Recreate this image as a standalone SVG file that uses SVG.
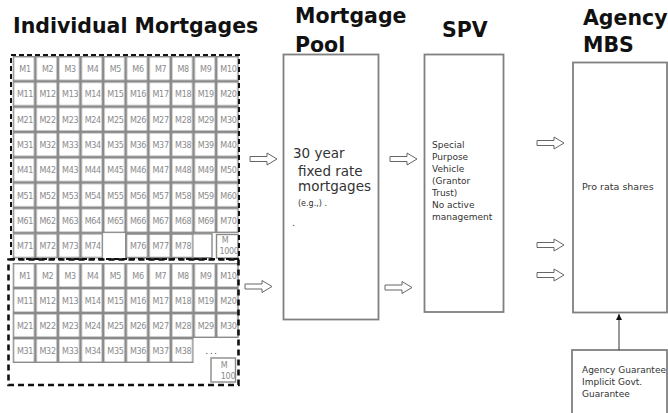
<svg xmlns="http://www.w3.org/2000/svg" xmlns:xlink="http://www.w3.org/1999/xlink" width="668" height="413" viewBox="0 0 668 413">
<style>
.title{font-family:"DejaVu Sans",Verdana,sans-serif;font-weight:bold;font-size:20.5px;fill:#111}
.c{font-family:"DejaVu Sans",sans-serif;font-size:8px;fill:#8a8a8a;text-anchor:middle;letter-spacing:-0.3px}
.box{fill:#fff;stroke:#808080;stroke-width:1.8}
.t{font-family:"DejaVu Sans",sans-serif;fill:#333}
.s{font-size:9px}
.blk{fill:#fff;stroke:#666;stroke-width:1}
.cellb{fill:none;stroke:#8a8a8a;stroke-width:1.4}
</style>
<defs>
<pattern id="cellsA" patternUnits="userSpaceOnUse" x="12.7" y="56" width="22.6" height="25.3">
<rect x="0.7" y="0.7" width="21.2" height="23.9" fill="#fff" stroke="#8a8a8a" stroke-width="1.4"/>
</pattern>
<pattern id="cellsB" patternUnits="userSpaceOnUse" x="12.7" y="263" width="22.6" height="25">
<rect x="0.7" y="0.7" width="21.2" height="23.6" fill="#fff" stroke="#8a8a8a" stroke-width="1.4"/>
</pattern>
<path id="blk" d="M0,-2.5 H17 V-6 L27,0 L17,6 V2.5 H0 Z"/>
<marker id="ah" markerWidth="8" markerHeight="8" refX="6" refY="3" orient="auto" markerUnits="userSpaceOnUse">
<path d="M0,0 L6,3 L0,6 Z" fill="#111"/>
</marker>
</defs>
<rect width="668" height="413" fill="#fff"/>

<text class="title" x="13" y="33">Individual Mortgages</text>
<text class="title" x="295" y="23.3">Mortgage</text>
<text class="title" x="295" y="51.7">Pool</text>
<text class="title" x="442" y="37">SPV</text>
<text class="title" x="583" y="25">Agency</text>
<text class="title" x="583" y="51.7">MBS</text>

<g id="grid1">
<rect x="12.7" y="56" width="226" height="177.1" fill="url(#cellsA)"/>
<rect x="12.7" y="233.1" width="90.4" height="25.3" fill="url(#cellsA)"/>
<rect x="125.7" y="233.1" width="67.8" height="25.3" fill="url(#cellsA)"/>
<rect x="125.7" y="233.8" width="86.3" height="23.9" class="cellb"/>
<rect x="216.5" y="234.5" width="21.5" height="23.5" class="cellb" fill="#fff"/>
<g class="c">
<text x="25" y="72">M1</text><text x="47.6" y="72">M2</text><text x="70.2" y="72">M3</text><text x="92.8" y="72">M4</text><text x="115.4" y="72">M5</text><text x="138" y="72">M6</text><text x="160.6" y="72">M7</text><text x="183.2" y="72">M8</text><text x="205.8" y="72">M9</text><text x="228.4" y="72">M10</text>
<text x="25" y="97.3">M11</text><text x="47.6" y="97.3">M12</text><text x="70.2" y="97.3">M13</text><text x="92.8" y="97.3">M14</text><text x="115.4" y="97.3">M15</text><text x="138" y="97.3">M16</text><text x="160.6" y="97.3">M17</text><text x="183.2" y="97.3">M18</text><text x="205.8" y="97.3">M19</text><text x="228.4" y="97.3">M20</text>
<text x="25" y="122.6">M21</text><text x="47.6" y="122.6">M22</text><text x="70.2" y="122.6">M23</text><text x="92.8" y="122.6">M24</text><text x="115.4" y="122.6">M25</text><text x="138" y="122.6">M26</text><text x="160.6" y="122.6">M27</text><text x="183.2" y="122.6">M28</text><text x="205.8" y="122.6">M29</text><text x="228.4" y="122.6">M30</text>
<text x="25" y="147.9">M31</text><text x="47.6" y="147.9">M32</text><text x="70.2" y="147.9">M33</text><text x="92.8" y="147.9">M34</text><text x="115.4" y="147.9">M35</text><text x="138" y="147.9">M36</text><text x="160.6" y="147.9">M37</text><text x="183.2" y="147.9">M38</text><text x="205.8" y="147.9">M39</text><text x="228.4" y="147.9">M40</text>
<text x="25" y="173.2">M41</text><text x="47.6" y="173.2">M42</text><text x="70.2" y="173.2">M43</text><text x="92.8" y="173.2">M44</text><text x="115.4" y="173.2">M45</text><text x="138" y="173.2">M46</text><text x="160.6" y="173.2">M47</text><text x="183.2" y="173.2">M48</text><text x="205.8" y="173.2">M49</text><text x="228.4" y="173.2">M50</text>
<text x="25" y="198.5">M51</text><text x="47.6" y="198.5">M52</text><text x="70.2" y="198.5">M53</text><text x="92.8" y="198.5">M54</text><text x="115.4" y="198.5">M55</text><text x="138" y="198.5">M56</text><text x="160.6" y="198.5">M57</text><text x="183.2" y="198.5">M58</text><text x="205.8" y="198.5">M59</text><text x="228.4" y="198.5">M60</text>
<text x="25" y="223.8">M61</text><text x="47.6" y="223.8">M62</text><text x="70.2" y="223.8">M63</text><text x="92.8" y="223.8">M64</text><text x="115.4" y="223.8">M65</text><text x="138" y="223.8">M66</text><text x="160.6" y="223.8">M67</text><text x="183.2" y="223.8">M68</text><text x="205.8" y="223.8">M69</text><text x="228.4" y="223.8">M70</text>
<text x="25" y="249.1">M71</text><text x="47.6" y="249.1">M72</text><text x="70.2" y="249.1">M73</text><text x="92.8" y="249.1">M74</text><text x="138" y="249.1">M76</text><text x="160.6" y="249.1">M77</text><text x="183.2" y="249.1">M78</text>
<text x="225" y="243">M</text><text x="229" y="254">1000</text>
</g>
<rect x="11" y="55" width="228" height="204" fill="none" stroke="#111" stroke-width="2" stroke-dasharray="5 3"/>
</g>

<g id="grid2">
<rect x="12.7" y="263" width="226" height="75" fill="url(#cellsB)"/>
<rect x="12.7" y="338" width="180.8" height="25" fill="url(#cellsB)"/>
<rect x="211" y="358" width="24.5" height="24" class="cellb" fill="#fff"/>
<g class="c">
<text x="25" y="279">M1</text><text x="47.6" y="279">M2</text><text x="70.2" y="279">M3</text><text x="92.8" y="279">M4</text><text x="115.4" y="279">M5</text><text x="138" y="279">M6</text><text x="160.6" y="279">M7</text><text x="183.2" y="279">M8</text><text x="205.8" y="279">M9</text><text x="228.4" y="279">M10</text>
<text x="25" y="304">M11</text><text x="47.6" y="304">M12</text><text x="70.2" y="304">M13</text><text x="92.8" y="304">M14</text><text x="115.4" y="304">M15</text><text x="138" y="304">M16</text><text x="160.6" y="304">M17</text><text x="183.2" y="304">M18</text><text x="205.8" y="304">M19</text><text x="228.4" y="304">M20</text>
<text x="25" y="329">M21</text><text x="47.6" y="329">M22</text><text x="70.2" y="329">M23</text><text x="92.8" y="329">M24</text><text x="115.4" y="329">M25</text><text x="138" y="329">M26</text><text x="160.6" y="329">M27</text><text x="183.2" y="329">M28</text><text x="205.8" y="329">M29</text><text x="228.4" y="329">M30</text>
<text x="25" y="354">M31</text><text x="47.6" y="354">M32</text><text x="70.2" y="354">M33</text><text x="92.8" y="354">M34</text><text x="115.4" y="354">M35</text><text x="138" y="354">M36</text><text x="160.6" y="354">M37</text><text x="183.2" y="354">M38</text>
<text x="211" y="354" style="fill:#333">. . .</text>
<text x="224" y="368">M</text><text x="228" y="379">100</text>
</g>
<rect x="8.5" y="259.5" width="230" height="125.5" fill="none" stroke="#111" stroke-width="2.6" stroke-dasharray="6 4"/>
</g>

<g id="pool">
<rect class="box" x="283.5" y="54.5" width="95" height="265"/>
<text class="t" x="293" y="158" font-size="13.5">30 year</text>
<text class="t" x="298" y="176" font-size="13.5">fixed rate</text>
<text class="t" x="298" y="191" font-size="13.5">mortgages</text>
<text class="t" x="298" y="206" font-size="8">(e.g.,) .</text>
<text class="t" x="292" y="226" font-size="9">.</text>
</g>

<g id="spv">
<rect class="box" x="424.5" y="54.5" width="79" height="257.5"/>
<g class="t s">
<text x="432" y="148">Special</text>
<text x="432" y="160">Purpose</text>
<text x="432" y="172">Vehicle</text>
<text x="432" y="184">(Grantor</text>
<text x="432" y="196">Trust)</text>
<text x="432" y="208">No active</text>
<text x="432" y="220">management</text>
</g>
</g>

<g id="mbs">
<rect class="box" x="573" y="62.5" width="94" height="250"/>
<text class="t" x="582" y="190" font-size="9.5">Pro rata shares</text>
</g>

<g id="guarantee">
<rect class="box" x="572" y="350" width="95" height="66"/>
<g class="t s">
<text x="582" y="373">Agency Guarantee</text>
<text x="582" y="385">Implicit Govt.</text>
<text x="582" y="397">Guarantee</text>
</g>
</g>

<g id="connectors">
<use xlink:href="#blk" href="#blk" class="blk" x="250" y="159"/>
<use xlink:href="#blk" href="#blk" class="blk" x="245" y="286.5"/>
<use xlink:href="#blk" href="#blk" class="blk" x="390" y="159"/>
<use xlink:href="#blk" href="#blk" class="blk" x="385" y="287.5"/>
<use xlink:href="#blk" href="#blk" class="blk" x="537" y="143"/>
<use xlink:href="#blk" href="#blk" class="blk" x="537" y="245"/>
<use xlink:href="#blk" href="#blk" class="blk" x="537" y="275"/>
<line x1="619" y1="350" x2="619" y2="314" stroke="#333" stroke-width="1" marker-end="url(#ah)"/>
</g>
</svg>
